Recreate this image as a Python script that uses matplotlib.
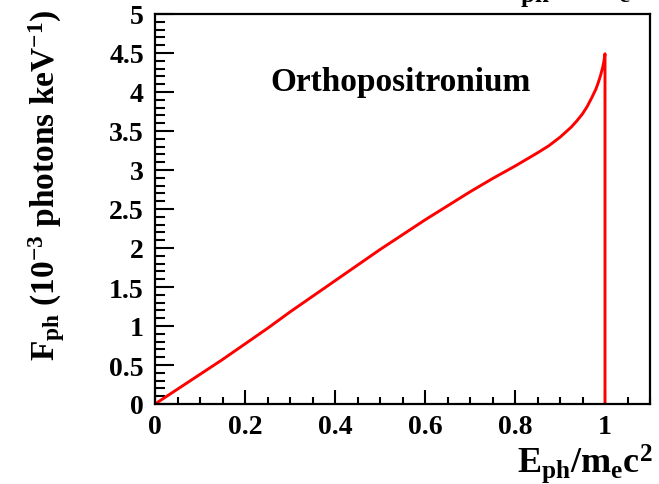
import matplotlib
matplotlib.use("Agg")
import matplotlib.pyplot as plt
from matplotlib.ticker import MultipleLocator

# photon energy in units of m_e c^2
e_ratio = [0.0, 0.05, 0.1, 0.15, 0.2, 0.25, 0.3, 0.35, 0.4, 0.45, 0.5,
           0.55, 0.6, 0.65, 0.7, 0.75, 0.8, 0.85, 0.875, 0.9, 0.925,
           0.9375, 0.95, 0.96, 0.97, 0.98, 0.985, 0.99, 0.995, 0.9975,
           1.0, 1.0]
# F_ph in 10^-3 photons per keV
f_ph = [0.0, 0.19, 0.38, 0.57, 0.77, 0.97, 1.18, 1.38, 1.58, 1.78, 1.98,
        2.17, 2.36, 2.54, 2.72, 2.89, 3.05, 3.22, 3.31, 3.42, 3.55,
        3.63, 3.72, 3.81, 3.92, 4.04, 4.12, 4.21, 4.32, 4.39,
        4.49, 0.0]

x_ticks = [0, 0.2, 0.4, 0.6, 0.8, 1]
x_ticklabels = ["0", "0.2", "0.4", "0.6", "0.8", "1"]
y_ticks = [0, 0.5, 1, 1.5, 2, 2.5, 3, 3.5, 4, 4.5, 5]
y_ticklabels = ["0", "0.5", "1", "1.5", "2", "2.5", "3", "3.5", "4", "4.5", "5"]

plt.rcParams['font.family'] = ['Liberation Serif', 'DejaVu Serif']
plt.rcParams['font.weight'] = 'bold'
plt.rcParams['axes.labelweight'] = 'bold'
plt.rcParams['mathtext.fontset'] = 'custom'
plt.rcParams['mathtext.rm'] = 'Liberation Serif:bold'
plt.rcParams['mathtext.it'] = 'Liberation Serif:bold'
plt.rcParams['mathtext.bf'] = 'Liberation Serif:bold'
plt.rcParams['mathtext.default'] = 'rm'

fig = plt.figure(figsize=(6.59, 4.85), dpi=100)
ax = fig.add_axes([155/659, 1 - 405/485, 495/659, 390/485])

ax.plot(e_ratio, f_ph, color='#ff0000', lw=2.1)

ax.set_xlim(0, 1.1)
ax.set_ylim(0, 5)
ax.set_xticks(x_ticks)
ax.set_xticklabels(x_ticklabels)
ax.set_yticks(y_ticks)
ax.set_yticklabels(y_ticklabels)
ax.xaxis.set_minor_locator(MultipleLocator(0.05))
ax.yaxis.set_minor_locator(MultipleLocator(0.1))
ax.tick_params(which='both', direction='in', top=False, right=False,
               width=1.5, labelsize=20)
ax.tick_params(axis='x', which='major', length=10, pad=7)
ax.tick_params(axis='x', which='minor', length=5)
ax.tick_params(axis='y', which='major', length=14, pad=8)
ax.tick_params(axis='y', which='minor', length=7)
for s in ax.spines.values():
    s.set_linewidth(1.6)

ax.set_xlabel(r"E$_{ph}$/m$_{e}$c$^{2}$", fontsize=26, loc='right')
ax.xaxis.set_label_coords(1.005, -0.097)
ax.set_ylabel(r"F$_{ph}$ (10$^{-3}$ photons keV$^{-1}$)", fontsize=24, loc='top')
ax.yaxis.set_label_coords(-0.178, 1.013)

ax.text(0.497, 0.826, "Orthopositronium", transform=ax.transAxes,
        ha='center', va='center', fontsize=24)

# title cut off at the top edge, only its subscripts show
fig.text(0.752, 1.006, r"E$_{ph}$ = m$_{e}$c$^{2}$", ha='left', va='baseline',
         fontsize=26)

fig.savefig("out.png", dpi=100)
